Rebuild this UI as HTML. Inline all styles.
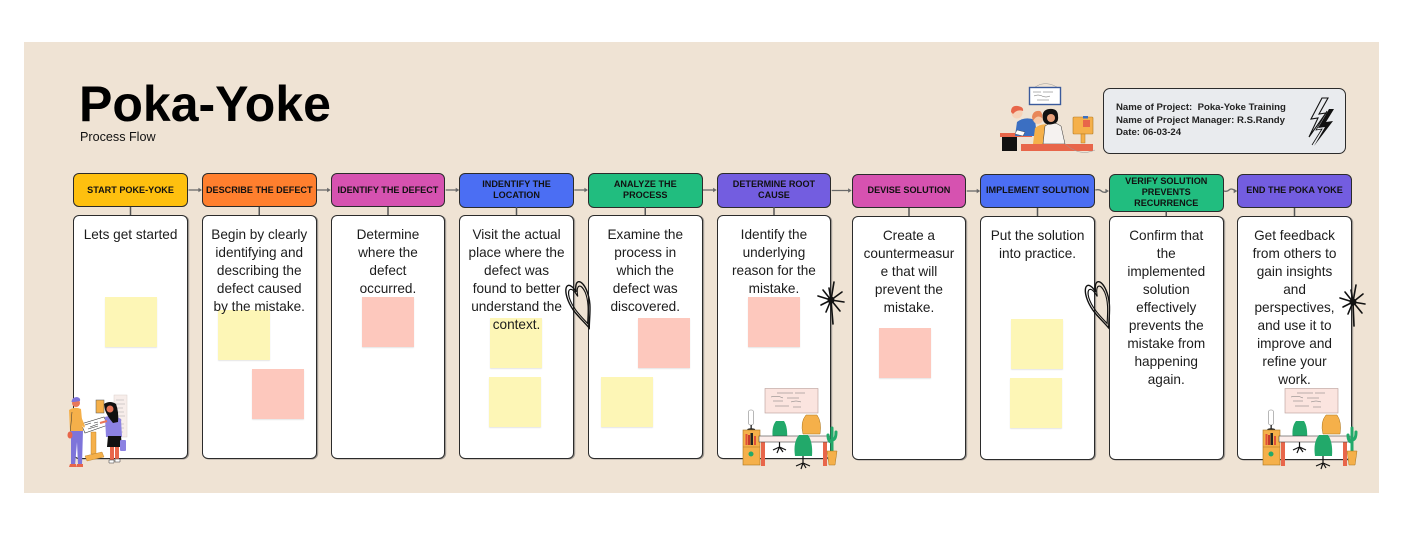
<!DOCTYPE html>
<html><head><meta charset="utf-8">
<style>
*{margin:0;padding:0;box-sizing:border-box}
html,body{width:1402px;height:534px;background:#fff;overflow:hidden;font-family:"Liberation Sans",Arial,sans-serif;position:relative}
#bg{position:absolute;left:24px;top:42px;width:1355px;height:451px;background:#EFE3D4}
.h{position:absolute;width:114.5px;border:1.3px solid #2b2b2b;border-radius:6px;display:flex;align-items:center;justify-content:center;text-align:center;font-weight:bold;font-size:9.1px;line-height:11px;color:#111}
.c{position:absolute;width:114.5px;height:244px;background:#fff;border:1.3px solid #2b2b2b;border-radius:6px;box-shadow:1.2px 0.5px 0 #a09a93}
.t{position:absolute;left:0;right:0;top:10.5px;text-align:center;font-size:13.6px;line-height:18px;color:#1c1c1c;z-index:2}
.s{position:absolute;width:52px;height:50px;z-index:1;box-shadow:0 1px 1px rgba(0,0,0,0.1)}
.y{background:#FDF6B6}
.p{background:#FDC8BD}
#title{position:absolute;left:79px;top:79px;font-size:50px;line-height:50px;font-weight:bold;color:#000}
#sub{position:absolute;left:80px;top:130.8px;font-size:12.6px;line-height:13px;color:#111}
#info{position:absolute;left:1103px;top:88px;width:243px;height:66px;background:#E9EBEE;border:1.3px solid #2b2b2b;border-radius:7px}
#infot{position:absolute;left:1116px;top:101.8px;font-size:9.6px;line-height:12.7px;font-weight:bold;color:#222;white-space:nowrap}
svg{position:absolute;left:0;top:0;z-index:3}
</style></head><body>
<div id="bg"></div>
<div id="title">Poka-Yoke</div>
<div id="sub">Process Flow</div>
<div id="info"></div>
<div id="infot">Name of Project:&nbsp; Poka-Yoke Training<br>Name of Project Manager: R.S.Randy<br>Date: 06-03-24</div>

<!-- headers -->
<div class="h" style="left:73.3px;top:173px;height:34px;background:#FEC00F">START POKE-YOKE</div>
<div class="h" style="left:202px;top:173px;height:34px;background:#FF7F2E">DESCRIBE THE DEFECT</div>
<div class="h" style="left:330.7px;top:173px;height:34px;background:#D652B0">IDENTIFY THE DEFECT</div>
<div class="h" style="left:459.3px;top:172.5px;height:35px;background:#4B6EF3">INDENTIFY THE<br>LOCATION</div>
<div class="h" style="left:588px;top:172.5px;height:35px;background:#21BD7F">ANALYZE THE<br>PROCESS</div>
<div class="h" style="left:716.7px;top:172.5px;height:35px;background:#735DE0">DETERMINE ROOT<br>CAUSE</div>
<div class="h" style="left:851.7px;top:173.5px;height:34.5px;background:#D652B0">DEVISE SOLUTION</div>
<div class="h" style="left:980.3px;top:173.5px;height:34.5px;background:#4B6EF3">IMPLEMENT SOLUTION</div>
<div class="h" style="left:1109px;top:173.5px;height:38px;background:#21BD7F">VERIFY SOLUTION<br>PREVENTS<br>RECURRENCE</div>
<div class="h" style="left:1237.3px;top:173.5px;height:34.5px;background:#735DE0">END THE POKA YOKE</div>

<!-- cards -->
<div class="c" style="left:73.3px;top:214.5px"><div class="t">Lets get started</div></div>
<div class="c" style="left:202px;top:214.5px"><div class="t">Begin by clearly<br>identifying and<br>describing the<br>defect caused<br>by the mistake.</div></div>
<div class="c" style="left:330.7px;top:214.5px"><div class="t">Determine<br>where the<br>defect<br>occurred.</div></div>
<div class="c" style="left:459.3px;top:214.5px"><div class="t">Visit the actual<br>place where the<br>defect was<br>found to better<br>understand the<br>context.</div></div>
<div class="c" style="left:588px;top:214.5px"><div class="t">Examine the<br>process in<br>which the<br>defect was<br>discovered.</div></div>
<div class="c" style="left:716.7px;top:214.5px"><div class="t">Identify the<br>underlying<br>reason for the<br>mistake.</div></div>
<div class="c" style="left:851.7px;top:215.5px"><div class="t">Create a<br>countermeasur<br>e that will<br>prevent the<br>mistake.</div></div>
<div class="c" style="left:980.3px;top:215.5px"><div class="t">Put the solution<br>into practice.</div></div>
<div class="c" style="left:1109px;top:215.5px"><div class="t">Confirm that<br>the<br>implemented<br>solution<br>effectively<br>prevents the<br>mistake from<br>happening<br>again.</div></div>
<div class="c" style="left:1237.3px;top:215.5px"><div class="t">Get feedback<br>from others to<br>gain insights<br>and<br>perspectives,<br>and use it to<br>improve and<br>refine your<br>work.</div></div>

<!-- sticky notes -->
<div class="s y" style="left:105px;top:297px"></div>
<div class="s y" style="left:218px;top:310px"></div>
<div class="s p" style="left:252px;top:369px"></div>
<div class="s p" style="left:362px;top:297px"></div>
<div class="s y" style="left:490px;top:318px"></div>
<div class="s y" style="left:489px;top:377px"></div>
<div class="s p" style="left:638px;top:318px"></div>
<div class="s y" style="left:601px;top:377px"></div>
<div class="s p" style="left:748px;top:297px"></div>
<div class="s p" style="left:879px;top:328px"></div>
<div class="s y" style="left:1010.5px;top:319px"></div>
<div class="s y" style="left:1009.5px;top:378px"></div>

<svg width="1402" height="534" viewBox="0 0 1402 534">
<!-- horizontal arrows -->
<g stroke="#6a6a6a" stroke-width="1.3" fill="none">
<path d="M188.5 190 H199"/><path d="M317 190 H327.7"/><path d="M445.7 190 H456.3"/><path d="M574.3 190 H585"/><path d="M703 190 H713.7"/>
<path d="M831.7 190.5 H848.7"/><path d="M966.7 191 H977.3"/>
<path d="M1095.3 190 q4 -1 6 1 t5 1"/><path d="M1224 191 q3 1 5 -1 t5 0"/>
</g>
<g fill="#6a6a6a">
<path d="M202 190 l-3.6 -2.2 v4.4z"/><path d="M330.7 190 l-3.6 -2.2 v4.4z"/><path d="M459.3 190 l-3.6 -2.2 v4.4z"/><path d="M588 190 l-3.6 -2.2 v4.4z"/><path d="M716.7 190 l-3.6 -2.2 v4.4z"/>
<path d="M851.7 190.5 l-3.6 -2.2 v4.4z"/><path d="M980.3 191 l-3.6 -2.2 v4.4z"/><path d="M1109 191 l-3.6 -2.2 v4.4z"/><path d="M1237.3 191 l-3.6 -2.2 v4.4z"/>
</g>
<!-- vertical connectors -->
<g stroke="#555" stroke-width="1.5">
<path d="M130.5 207 V215"/><path d="M259.25 207 V215"/><path d="M388 207 V215"/><path d="M516.5 207 V215"/><path d="M645.25 207 V215"/><path d="M774 207 V215"/>
<path d="M909 208 V216"/><path d="M1037.5 208 V216"/><path d="M1166.25 211.5 V216"/><path d="M1294.5 208 V216"/>
</g>

<!-- lightning -->
<path d="M1322 98 L1311 119 L1318 118 L1309 137 L1326 113 L1319 114 L1328 98 Z" fill="none" stroke="#111" stroke-width="1.1"/>
<path d="M1329 109 L1318 128 L1325 127 L1314 146 L1333 121 L1326 122 L1334 109 Z" fill="#111"/>
<path d="M1327 111 L1316 130 L1322 129 L1312 145" fill="none" stroke="#111" stroke-width="0.8"/>

<!-- hearts -->
<g transform="translate(580.5,304) rotate(-20) scale(0.8,1.6)" fill="none" stroke="#111">
<path vector-effect="non-scaling-stroke" stroke-width="1.4" d="M0,16 C-6,8 -14,2 -13,-7 C-12,-15 -3,-16 0,-8 C3,-16 12,-15 13,-7 C14,2 6,8 0,16 Z"/>
<path vector-effect="non-scaling-stroke" stroke-width="1.1" d="M0,13 C-5,7 -11,1 -10.5,-6 C-9.5,-12 -3,-13 0,-5 C3,-13 9.5,-12 10.5,-6 C11,1 5,7 0,13 Z"/>
</g>
<g transform="translate(1100,304) rotate(-20) scale(0.8,1.6)" fill="none" stroke="#111">
<path vector-effect="non-scaling-stroke" stroke-width="1.4" d="M0,16 C-6,8 -14,2 -13,-7 C-12,-15 -3,-16 0,-8 C3,-16 12,-15 13,-7 C14,2 6,8 0,16 Z"/>
<path vector-effect="non-scaling-stroke" stroke-width="1.1" d="M0,13 C-5,7 -11,1 -10.5,-6 C-9.5,-12 -3,-13 0,-5 C3,-13 9.5,-12 10.5,-6 C11,1 5,7 0,13 Z"/>
</g>

<!-- starbursts -->
<g transform="translate(831,300)" stroke="#111" stroke-linecap="round" fill="none">
<path stroke-width="1.6" d="M0 0 L-13 -4 M0 0 L-10 5 M0 0 L-5 12 M0 0 L2 24 M0 0 L9 11 M0 0 L13 2 M0 0 L11 -8 M0 0 L3 -18 M0 0 L-2 -12 M0 0 L-8 -10"/>
<circle r="3.5" fill="#111" stroke="none"/>
</g>
<g transform="translate(1353,302)" stroke="#111" stroke-linecap="round" fill="none">
<path stroke-width="1.6" d="M0 0 L-13 -4 M0 0 L-10 5 M0 0 L-5 12 M0 0 L1 24 M0 0 L9 11 M0 0 L12 2 M0 0 L10 -8 M0 0 L3 -17 M0 0 L-2 -12 M0 0 L-8 -10"/>
<circle r="3.5" fill="#111" stroke="none"/>
</g>

<!-- team illustration -->
<g transform="translate(995,82)">
<path d="M40 5 Q50 -2 62 5" fill="none" stroke="#999" stroke-width="0.5"/>
<rect x="34.5" y="5.5" width="31" height="17" fill="#fff" stroke="#3a5a9c" stroke-width="1.4"/>
<path d="M38 10 h8 M48 10 h10 M39 14 q4 -2 8 0 t8 0 M42 18 h12" stroke="#666" stroke-width="0.5" fill="none"/>
<rect x="5" y="51" width="32" height="4" fill="#E8664A"/>
<rect x="7" y="55" width="15" height="14" fill="#111"/>
<path d="M20 54 L22 40 Q30 34 40 38 L42 54 Z" fill="#3B6FC2"/>
<circle cx="22" cy="31" r="5.5" fill="#F6D2B8"/>
<path d="M16 30 Q16 23 23 24 Q29 25 28 29 Q22 27 18 32 Z" fill="#E8664A"/>
<path d="M22 48 L30 50 L28 54 L20 52Z" fill="#fff" stroke="#333" stroke-width="0.4"/>
<path d="M38 62 L40 46 Q48 40 56 44 L58 62 Z" fill="#F5B04A"/>
<circle cx="43" cy="37" r="5" fill="#F6C9A8"/>
<path d="M37 35 Q38 28 45 29 Q48 31 47 36 Q42 32 38 39Z" fill="#E8875A"/>
<path d="M48 62 L50 44 Q58 38 66 44 L70 62 Z" fill="#F5F2F0" stroke="#333" stroke-width="0.5"/>
<path d="M48 38 Q46 28 54 27 Q63 26 63 34 Q64 41 58 42 Q50 44 48 38Z" fill="#111"/>
<circle cx="56" cy="36" r="4" fill="#E8A07A"/>
<rect x="78" y="35" width="20" height="17" rx="1" fill="#F5B04A" stroke="#b27920" stroke-width="0.6"/>
<rect x="86" y="52" width="4" height="9" fill="#F5B04A" stroke="#b27920" stroke-width="0.5"/>
<rect x="88" y="38" width="7" height="7" fill="#E8664A"/>
<rect x="88" y="34" width="5" height="2.5" fill="#3B6FC2"/>
<rect x="26" y="62" width="72" height="7" fill="#E8664A"/>
<path d="M70 62 Q85 75 100 68" stroke="#999" fill="none" stroke-width="0.5"/>
</g>

<!-- people illustration -->
<g transform="translate(60,390)">
<rect x="54" y="5" width="13" height="42" fill="#F7EDEA" stroke="#d9cfcc" stroke-width="0.5"/>
<path d="M56 10h8M56 14h9M56 18h7M56 22h8M56 26h9M56 30h6M56 34h8M56 38h8M56 42h7" stroke="#999" stroke-width="0.4"/>
<rect x="36" y="10" width="8" height="13" fill="#F5B04A" stroke="#555" stroke-width="0.5"/>
<path d="M31 42 h5 v22 h-5z" fill="#F5B04A" stroke="#b27920" stroke-width="0.4"/>
<path d="M25 66 L42 62 L44 67 L27 71Z" fill="#F5B04A" stroke="#b27920" stroke-width="0.4"/>
<path d="M21 34 L44 27 L48 35 L25 43Z" fill="#fff" stroke="#333" stroke-width="0.6"/>
<path d="M25 35 l6 -2 M30 37 l8 -3 M34 33 l4 -1 M28 39 l10 -3" stroke="#333" stroke-width="0.6"/>
<path d="M11 40 L23 40 L22 75 L18 75 L17 52 L15 76 L11 76Z" fill="#7E74DA"/>
<path d="M9 20 Q15 16 21 19 L23 41 L10 41 Z" fill="#F5B04A"/>
<path d="M20 24 L25 36 L24 38 L18 28Z" fill="#F5B04A"/>
<circle cx="16" cy="13" r="4" fill="#E8775A"/>
<path d="M11.5 12 Q12 7 17 7 Q21 8 20 11 L14 12Z" fill="#7E74DA"/>
<path d="M10 74 h6 v3 h-7z M17 74 h6 v3 h-7z" fill="#E8664A"/>
<path d="M12 22 L10 45" stroke="#333" stroke-width="0.5"/>
<ellipse cx="10" cy="45" rx="2.5" ry="3.5" fill="#E8664A"/>
<path d="M45 27 Q53 24 61 29 L62 47 L46 47Z" fill="#8C82E2"/>
<path d="M48 46 L61 46 L62 57 L47 57Z" fill="#111"/>
<path d="M50 57 h4 v13 h-4z M55 57 h4 v12 h-4z" fill="#E8664A"/>
<path d="M49 70 h5 v3 h-5z M55 69 h5 v3 h-5z" fill="#fff" stroke="#333" stroke-width="0.5"/>
<path d="M44 14 Q50 10 56 14 Q59 22 58 32 L53 33 Q47 26 45 20Z" fill="#111"/>
<circle cx="50" cy="19" r="3.5" fill="#E8775A"/>
<rect x="60" y="50" width="6" height="11" rx="1" fill="#8C82E2"/>
<path d="M40 33 L47 31" stroke="#E8775A" stroke-width="2"/>
</g>

<!-- desk illustration col6 -->
<g transform="translate(735,380)">
<rect x="30" y="8.5" width="53" height="24.5" fill="#FBE4DF" stroke="#b89c97" stroke-width="0.6"/>
<path d="M42 13 h16 M60 13 h10 M36 17 q6 -2 12 1 M52 18 h12 M38 21 h10 M56 22 q5 -2 10 0 M40 26 h14 M58 27 h8" stroke="#777" stroke-width="0.5" fill="none"/>
<rect x="13.5" y="30" width="5" height="15" rx="2" fill="#fff" stroke="#888" stroke-width="0.6"/>
<rect x="15.5" y="45" width="1.3" height="4" fill="#222"/>
<ellipse cx="16.2" cy="49.5" rx="4" ry="1.2" fill="#222"/>
<rect x="8" y="50" width="17" height="35" fill="#F5B04A" stroke="#a8741e" stroke-width="0.6"/>
<path d="M8 67 h17" stroke="#a8741e" stroke-width="0.6"/>
<rect x="10.5" y="54" width="2" height="11" fill="#E0503A"/>
<rect x="13" y="55" width="2" height="10" fill="#C73A2A"/>
<rect x="15.5" y="53" width="2.5" height="12" fill="#222"/>
<rect x="19" y="56" width="2" height="9" fill="#E0503A"/>
<circle cx="16" cy="74" r="2.5" fill="#22A96A"/>
<rect x="26" y="62" width="4" height="24" fill="#E8664A"/>
<rect x="88" y="62" width="4" height="24" fill="#E8664A"/>
<path d="M68 54 Q65 42 71 35 L82 35 Q87 42 85 54 Z" fill="#F5B04A" stroke="#a8741e" stroke-width="0.5"/>
<path d="M38 60 Q36 47 41 41 L49 41 Q53 47 52 60 Z" fill="#22A96A"/>
<path d="M44.5 60 v7 M38 70 L44.5 67 L51 70 M44.5 67 L42 73 M44.5 67 L48 72" stroke="#111" stroke-width="1.2" fill="none"/>
<rect x="24" y="56" width="71" height="6" fill="#FBEDEA" stroke="#444" stroke-width="0.6"/>
<path d="M60 76 Q58 62 64 55 L73 55 Q78 62 77 76 Z" fill="#22A96A"/>
<path d="M68 76 v7 M61 86 L68 83 L75 86 M68 83 L66 89 M68 83 L71 88" stroke="#111" stroke-width="1.2" fill="none"/>
<path d="M97 72 V48 M97 62 Q93 62 93 55 M97 60 Q101 60 101 52" stroke="#22A96A" stroke-width="3" fill="none" stroke-linecap="round"/>
<path d="M92 71 L102 71 L100 85 L94 85 Z" fill="#F5B04A" stroke="#a8741e" stroke-width="0.5"/>
</g>

<!-- desk illustration col10 -->
<g transform="translate(1255,380)">
<rect x="30" y="8.5" width="53" height="24.5" fill="#FBE4DF" stroke="#b89c97" stroke-width="0.6"/>
<path d="M42 13 h16 M60 13 h10 M36 17 q6 -2 12 1 M52 18 h12 M38 21 h10 M56 22 q5 -2 10 0 M40 26 h14 M58 27 h8" stroke="#777" stroke-width="0.5" fill="none"/>
<rect x="13.5" y="30" width="5" height="15" rx="2" fill="#fff" stroke="#888" stroke-width="0.6"/>
<rect x="15.5" y="45" width="1.3" height="4" fill="#222"/>
<ellipse cx="16.2" cy="49.5" rx="4" ry="1.2" fill="#222"/>
<rect x="8" y="50" width="17" height="35" fill="#F5B04A" stroke="#a8741e" stroke-width="0.6"/>
<path d="M8 67 h17" stroke="#a8741e" stroke-width="0.6"/>
<rect x="10.5" y="54" width="2" height="11" fill="#E0503A"/>
<rect x="13" y="55" width="2" height="10" fill="#C73A2A"/>
<rect x="15.5" y="53" width="2.5" height="12" fill="#222"/>
<rect x="19" y="56" width="2" height="9" fill="#E0503A"/>
<circle cx="16" cy="74" r="2.5" fill="#22A96A"/>
<rect x="26" y="62" width="4" height="24" fill="#E8664A"/>
<rect x="88" y="62" width="4" height="24" fill="#E8664A"/>
<path d="M68 54 Q65 42 71 35 L82 35 Q87 42 85 54 Z" fill="#F5B04A" stroke="#a8741e" stroke-width="0.5"/>
<path d="M38 60 Q36 47 41 41 L49 41 Q53 47 52 60 Z" fill="#22A96A"/>
<path d="M44.5 60 v7 M38 70 L44.5 67 L51 70 M44.5 67 L42 73 M44.5 67 L48 72" stroke="#111" stroke-width="1.2" fill="none"/>
<rect x="24" y="56" width="71" height="6" fill="#FBEDEA" stroke="#444" stroke-width="0.6"/>
<path d="M60 76 Q58 62 64 55 L73 55 Q78 62 77 76 Z" fill="#22A96A"/>
<path d="M68 76 v7 M61 86 L68 83 L75 86 M68 83 L66 89 M68 83 L71 88" stroke="#111" stroke-width="1.2" fill="none"/>
<path d="M97 72 V48 M97 62 Q93 62 93 55 M97 60 Q101 60 101 52" stroke="#22A96A" stroke-width="3" fill="none" stroke-linecap="round"/>
<path d="M92 71 L102 71 L100 85 L94 85 Z" fill="#F5B04A" stroke="#a8741e" stroke-width="0.5"/>
</g>
</svg>
</body></html>
